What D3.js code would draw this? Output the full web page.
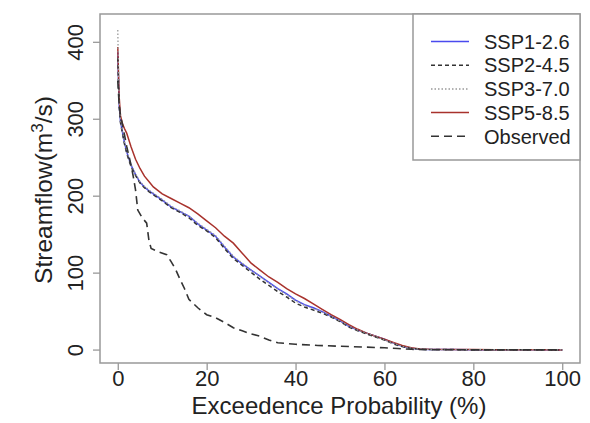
<!DOCTYPE html>
<html>
<head>
<meta charset="utf-8">
<script src="https://cdn.jsdelivr.net/npm/d3@7"></script>
<style>
  body { margin: 0; background: #fff; }
  svg { font-family: "Liberation Sans", Arial, sans-serif; }
</style>
</head>
<body>
<div id="chart"></div>
<script>
// exceedance probability (%) for the scenario curves
var prob = [0, 0.3, 0.6, 1, 1.5, 2, 3, 4, 5, 6, 7, 8, 10, 12, 14, 16, 18, 20, 22, 24, 26, 28, 30,
  32, 34, 36, 38, 40, 42, 44, 46, 48, 50, 52, 54, 56, 58, 60, 62, 64, 66, 68, 70, 75, 80, 85, 90, 95, 100]

var ssp126 = [388, 320, 298, 285, 270, 258, 240, 228, 218, 212, 207, 203, 195, 186, 180, 174, 164, 156, 148, 134, 121, 112, 104,
  96, 88, 80, 73, 65, 59, 55, 50, 44, 38, 31, 26, 22, 18, 14, 9, 5, 2.5, 1.2, 0.8, 0.6, 0.5, 0.4, 0.3, 0.3, 0.2]
var ssp245 = [380, 318, 296, 283, 268, 256, 238, 227, 217, 211, 206, 202, 194, 185, 179, 172, 162, 155, 146, 132, 119, 110, 101,
  92, 84, 76, 69, 61, 56, 52, 48, 43, 37, 30, 25, 21, 17, 13, 8, 4.5, 2.2, 1.1, 0.8, 0.6, 0.5, 0.4, 0.3, 0.3, 0.2]
var ssp370 = [416, 322, 300, 286, 271, 259, 241, 229, 219, 213, 208, 204, 196, 187, 181, 174, 165, 157, 149, 135, 122, 113, 104,
  96, 87, 79, 72, 64, 58, 54, 50, 44, 38, 31, 26, 22, 18, 13, 9, 5, 2.4, 1.2, 0.8, 0.6, 0.5, 0.4, 0.3, 0.3, 0.2]
var ssp585 = [394, 330, 305, 295, 288, 282, 264, 248, 236, 226, 219, 212, 203, 197, 191, 185, 177, 168, 159, 148, 139, 126, 113,
  104, 95, 88, 80, 73, 67, 60, 53, 46, 40, 33, 27, 22, 18, 14, 10, 6, 3, 1.5, 1, 0.8, 0.6, 0.5, 0.4, 0.3, 0.2]

// observed flow duration curve
var obsProb = [0, 0.3, 0.6, 1, 1.5, 2, 3, 3.5, 4, 4.5, 5.5, 6.5, 7, 7.5, 9, 11, 12, 13, 14, 15, 16, 18, 20, 22, 24, 26,
  28, 30, 32, 34, 36, 38, 40, 45, 50, 55, 60, 63, 66, 70, 80, 90, 100]
var obsFlow = [350, 320, 305, 295, 280, 265, 240, 225, 208, 182, 172, 165, 143, 132, 128, 124, 115, 105, 92, 80, 66, 55, 46, 42, 36, 29,
  25, 21, 18, 13, 9.5, 8.5, 7.5, 6, 5, 4, 3, 2, 1, 0.5, 0.3, 0.2, 0.2]

var xTicks = [0, 20, 40, 60, 80, 100]
var yTicks = [0, 100, 200, 300, 400]

var width = 590, height = 423
var svg = d3.select('#chart').append('svg')
  .attr('width', width)
  .attr('height', height)

var x = d3.scaleLinear().domain([-4, 104]).range([100, 580])
var y = d3.scaleLinear().domain([-16.8, 436.8]).range([363, 14])

var axisColor = '#999'

// axes, R style
var gx = svg.append('g')
  .attr('transform', 'translate(0,363)')
  .call(d3.axisBottom(x).tickValues(xTicks).tickSizeOuter(0).tickSize(7).tickPadding(0))
gx.select('.domain').remove()
gx.selectAll('line').attr('stroke', axisColor).attr('stroke-width', 1.3)
gx.selectAll('text').style('font-size', '22px').attr('fill', '#222')

var gy = svg.append('g')
  .attr('transform', 'translate(100,0)')
  .call(d3.axisLeft(y).tickValues(yTicks).tickSizeOuter(0).tickSize(7).tickPadding(0))
gy.select('.domain').remove()
gy.selectAll('line').attr('stroke', axisColor).attr('stroke-width', 1.3)
gy.selectAll('text')
  .style('font-size', '22px')
  .attr('fill', '#222')
  .attr('x', 0).attr('dy', 0)
  .attr('text-anchor', 'middle')
  .attr('transform', function (d) { return 'translate(-17,' + y(d) + ')rotate(-90)' })
  .attr('y', 0)
gy.selectAll('.tick').attr('transform', null)
gy.selectAll('.tick line').attr('transform', function (d) { return 'translate(0,' + y(d) + ')' })

// lines
var line = function (px, py) {
  return d3.line()
    .x(function (d, i) { return x(px[i]) })
    .y(function (d) { return y(d) })(py)
}

var series = [
  { name: 'SSP1-2.6', values: ssp126, color: '#4a4aee', dash: null, w: 1.5 },
  { name: 'SSP5-8.5', values: ssp585, color: '#a8322c', dash: null, w: 1.5 },
  { name: 'SSP2-4.5', values: ssp245, color: '#333', dash: '4,3', w: 1.5 },
  { name: 'SSP3-7.0', values: ssp370, color: '#999', dash: '1.5,2', w: 1.3 }
]

series.forEach(function (s) {
  svg.append('path')
    .attr('d', line(prob, s.values))
    .attr('fill', 'none')
    .attr('stroke', s.color)
    .attr('stroke-width', s.w)
    .attr('stroke-dasharray', s.dash)
})

svg.append('path')
  .attr('d', line(obsProb, obsFlow))
  .attr('fill', 'none')
  .attr('stroke', '#333')
  .attr('stroke-width', 1.6)
  .attr('stroke-dasharray', '8,5')

// box
svg.append('rect')
  .attr('x', 100).attr('y', 14)
  .attr('width', 480).attr('height', 349)
  .attr('fill', 'none')
  .attr('stroke', axisColor)
  .attr('stroke-width', 1.5)

// legend
var legendItems = [
  { name: 'SSP1-2.6', color: '#4a4aee', dash: null },
  { name: 'SSP2-4.5', color: '#333', dash: '4,3' },
  { name: 'SSP3-7.0', color: '#999', dash: '1.5,2' },
  { name: 'SSP5-8.5', color: '#a8322c', dash: null },
  { name: 'Observed', color: '#333', dash: '8,5' }
]

svg.append('rect')
  .attr('x', 413).attr('y', 14)
  .attr('width', 167).attr('height', 146)
  .attr('fill', '#fff')
  .attr('stroke', axisColor)
  .attr('stroke-width', 1.5)

var lg = svg.append('g').selectAll('g')
  .data(legendItems)
  .enter().append('g')
  .attr('transform', function (d, i) { return 'translate(0,' + (41.5 + i * 23.7) + ')' })

lg.append('line')
  .attr('x1', 431).attr('x2', 469)
  .attr('stroke', function (d) { return d.color })
  .attr('stroke-width', 1.5)
  .attr('stroke-dasharray', function (d) { return d.dash })

lg.append('text')
  .attr('x', 484).attr('dy', '0.36em')
  .style('font-size', '20px')
  .attr('fill', '#222')
  .text(function (d) { return d.name })

// axis titles
svg.append('text')
  .attr('x', 339).attr('y', 414)
  .attr('text-anchor', 'middle')
  .style('font-size', '24px')
  .attr('fill', '#222')
  .text('Exceedence Probability (%)')

var yt = svg.append('text')
  .attr('transform', 'translate(52,190)rotate(-90)')
  .attr('text-anchor', 'middle')
  .style('font-size', '24.5px')
  .attr('fill', '#222')
yt.append('tspan').text('Streamflow(m')
yt.append('tspan').attr('dy', -9).style('font-size', '17px').text('3')
yt.append('tspan').attr('dy', 9).text('/s)')
</script>
</body>
</html>
